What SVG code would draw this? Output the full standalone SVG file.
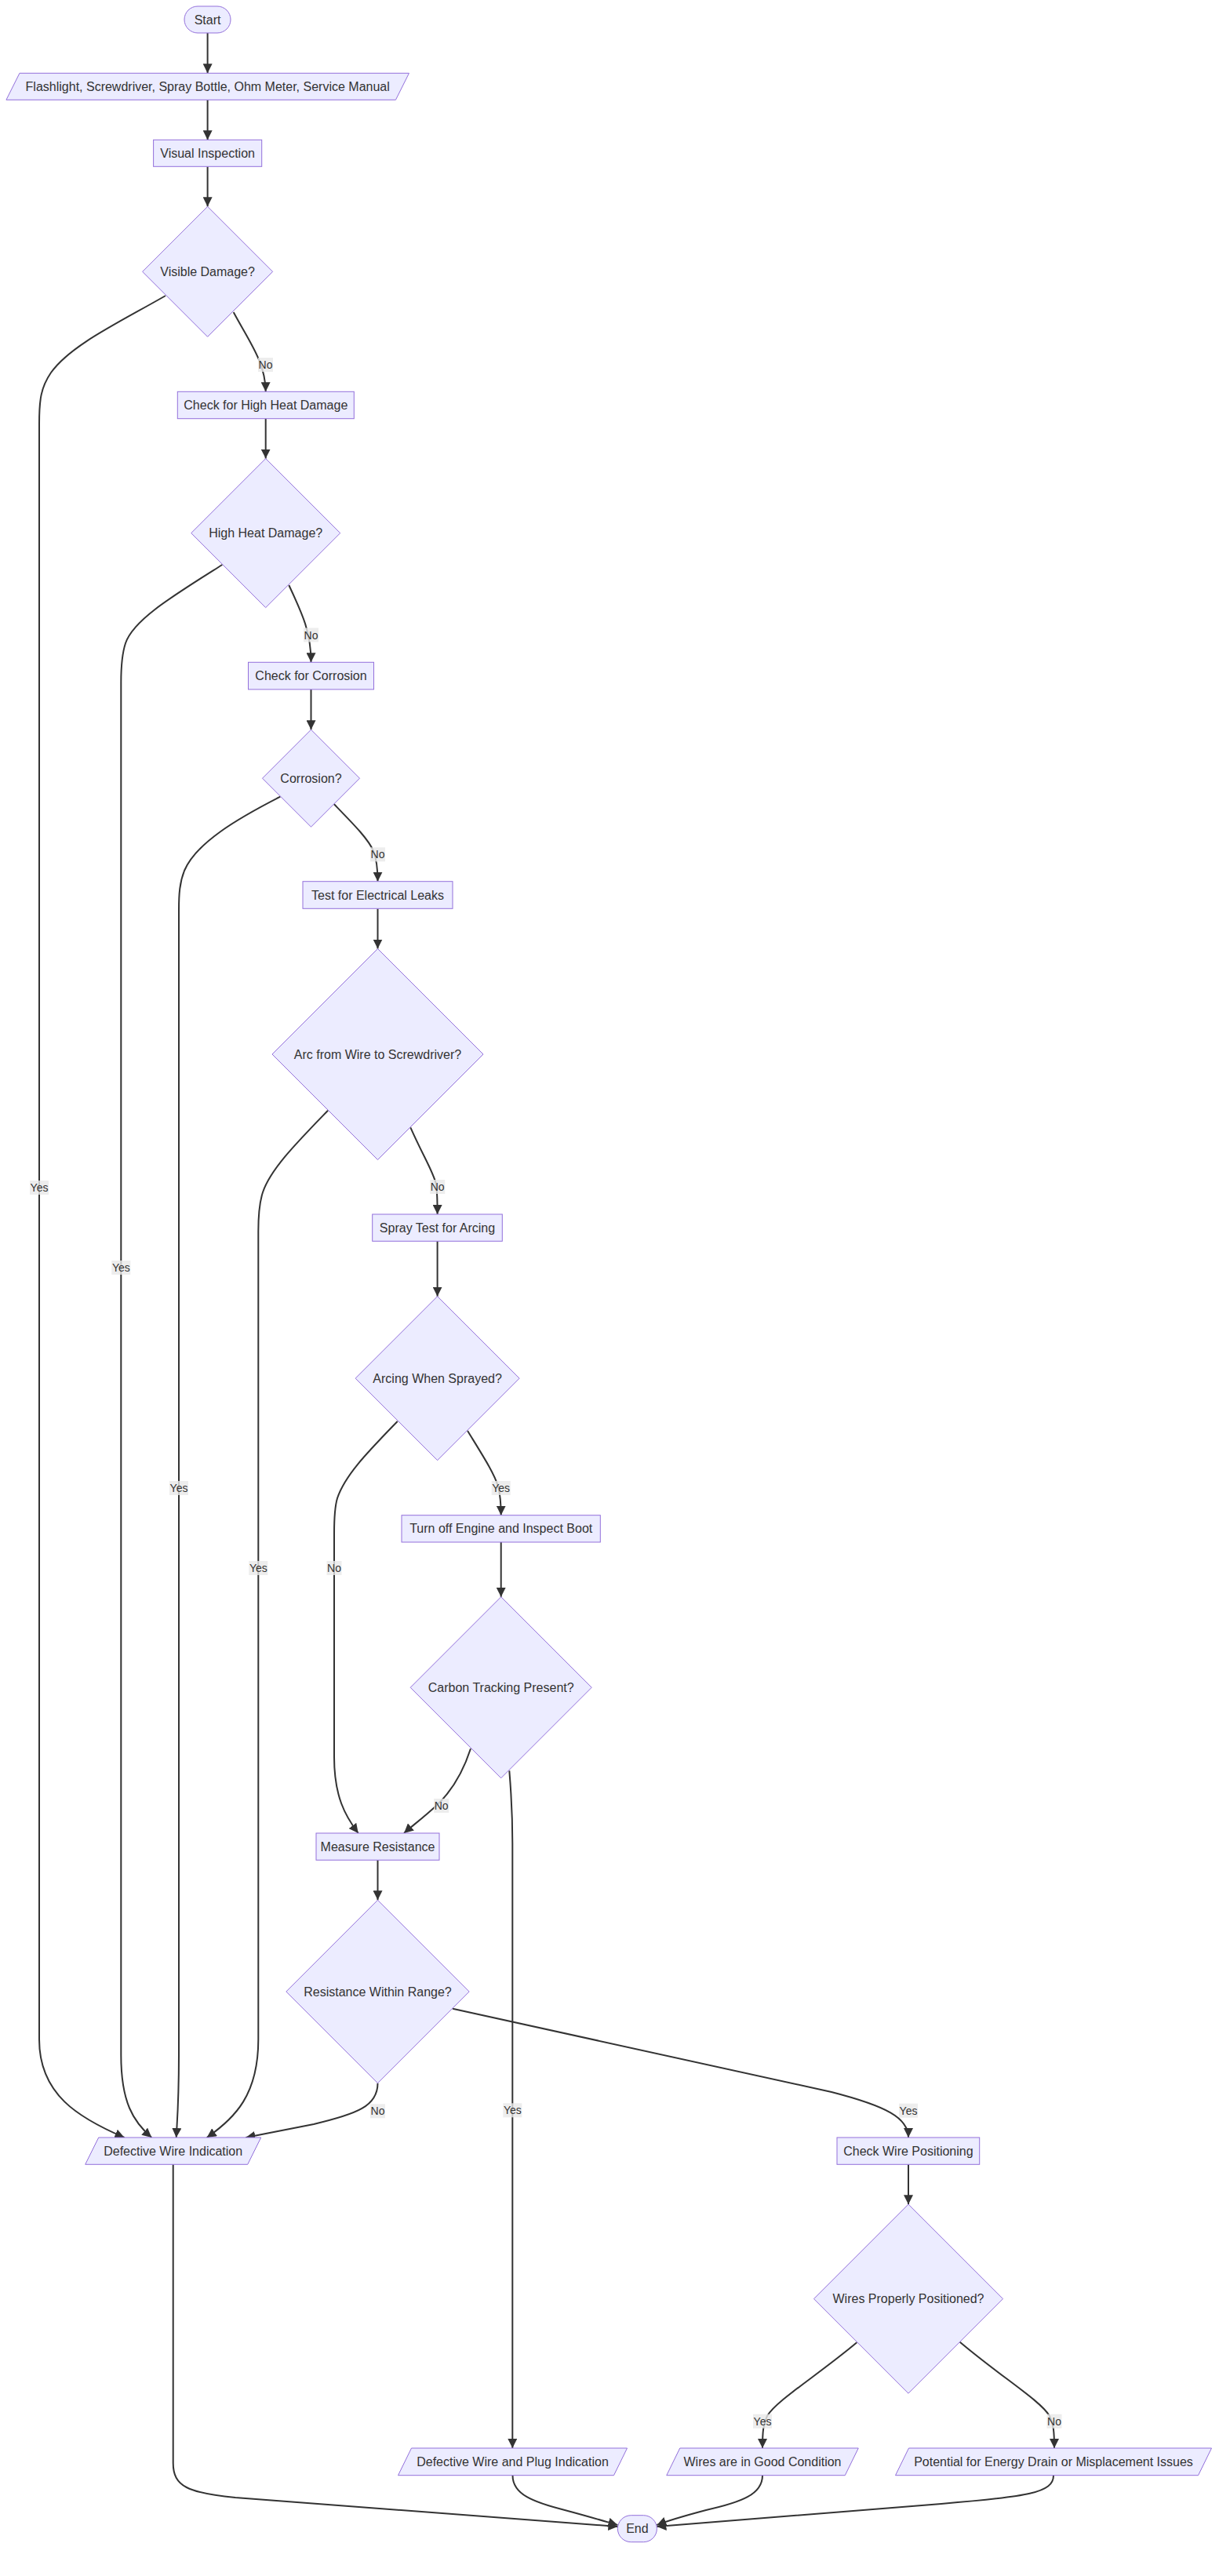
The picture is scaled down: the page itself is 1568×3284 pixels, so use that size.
<svg xmlns="http://www.w3.org/2000/svg" width="1568" height="3284" viewBox="0 0 1568 3284">
<style>
.node rect,.node polygon{fill:#ECECFF;stroke:#9370DB;stroke-width:1}
.node text{font-family:"Liberation Sans",Arial,sans-serif;font-size:16px;fill:#333;text-anchor:middle;dominant-baseline:central}
.edge{fill:none;stroke:#333;stroke-width:2;marker-end:url(#arrow)}
.lbl rect{fill:#e8e8e8;opacity:0.8}
.lbl text{font-family:"Liberation Sans",Arial,sans-serif;font-size:14px;fill:#333;text-anchor:middle;dominant-baseline:central}
</style>
<defs>
<marker id="arrow" viewBox="0 0 10 10" refX="10" refY="5" markerWidth="12" markerHeight="12" markerUnits="userSpaceOnUse" orient="auto"><path d="M0,0 L10,5 L0,10 z" fill="#333"/></marker>
</defs>
<rect width="1568" height="3284" fill="#fff"/>
<g id="edges">
<path class="edge" d="M264.6,42 L264.6,93.3"/>
<path class="edge" d="M264.6,127.3 L264.6,178.3"/>
<path class="edge" d="M264.6,212.3 L264.6,263.3"/>
<path class="edge" d="M211,377 C150,412 90,440 65,475 C52,494 50,510 50,540 L50,2600 C50,2670 100,2700 158.5,2725"/>
<path class="edge" d="M297.7,398 C318,436 338.5,462 338.7,499.3"/>
<path class="edge" d="M338.7,533.7 L338.7,584.6"/>
<path class="edge" d="M283.3,720 C220,760 170,790 160,820 C155,835 154.3,850 154.3,870 L154.3,2620 C154.3,2680 170,2705 193.3,2725"/>
<path class="edge" d="M368.3,746 C385,782 396.5,805 396.5,844.3"/>
<path class="edge" d="M396.5,878.9 L396.5,930.2"/>
<path class="edge" d="M357.3,1015.7 C300,1045 250,1075 235,1110 C229,1125 228,1140 228,1160 L228,2620 C228,2680 226,2700 224.7,2725"/>
<path class="edge" d="M425.7,1025 C450,1050 470,1070 476,1085 C480,1095 481.5,1105 481.5,1123.7"/>
<path class="edge" d="M481.5,1158.3 L481.5,1209.5"/>
<path class="edge" d="M418,1415.7 C380,1455 345,1490 335,1520 C330,1535 329.3,1550 329.3,1570 L329.3,2600 C329.3,2670 300,2700 263.7,2725"/>
<path class="edge" d="M523.3,1437.3 C540,1475 553,1495 556,1510 C557.5,1520 557.6,1530 557.6,1548"/>
<path class="edge" d="M557.6,1582.3 L557.6,1652.7"/>
<path class="edge" d="M506.7,1812 C470,1850 440,1880 430,1910 C427,1920 426,1935 426,1955 L426,2240 C426,2290 440,2315 456.7,2337"/>
<path class="edge" d="M596,1824 C615,1855 630,1878 635,1895 C638,1907 638.7,1915 638.7,1931.7"/>
<path class="edge" d="M638.7,1966 L638.7,2035.8"/>
<path class="edge" d="M600,2229.3 C590,2260 575,2285 555,2303 C540,2317 525,2328 515,2337"/>
<path class="edge" d="M649.3,2257.3 C652,2290 653.3,2315 653.3,2350 L653.3,3121"/>
<path class="edge" d="M481.5,2371.3 L481.5,2422.3"/>
<path class="edge" d="M481.5,2655.7 C481.5,2685 455,2695 400,2708 C360,2716 330,2722 313.4,2725"/>
<path class="edge" d="M577,2560.7 L1060,2667 C1130,2685 1158,2700 1158,2725"/>
<path class="edge" d="M1158,2759.3 L1158,2810.2"/>
<path class="edge" d="M1092.3,2986.3 C1040,3030 990,3060 978,3080 C973,3090 972,3100 972,3121"/>
<path class="edge" d="M1223.7,2985.7 C1276,3030 1326,3060 1338,3080 C1343,3090 1344,3100 1344,3121"/>
<path class="edge" d="M220.7,2759.3 L220.7,3140 C220.7,3170 240,3178 300,3184 L787.4,3221"/>
<path class="edge" d="M653.5,3155.7 C653.5,3180 680,3190 720,3200 C750,3208 770,3214 787.4,3219"/>
<path class="edge" d="M972,3155.7 C972,3180 945,3190 900,3200 C870,3208 850,3214 837.4,3219"/>
<path class="edge" d="M1343,3155.7 C1343,3178 1310,3183 1200,3192 L837.4,3221"/>
</g>
<g id="edge-labels">
<g class="lbl"><rect x="38" y="1505" width="24" height="18"/><text x="50" y="1514">Yes</text></g>
<g class="lbl"><rect x="329" y="456" width="19" height="18"/><text x="338.5" y="465">No</text></g>
<g class="lbl"><rect x="142.3" y="1607" width="24" height="18"/><text x="154.3" y="1616">Yes</text></g>
<g class="lbl"><rect x="387" y="800.5" width="19" height="18"/><text x="396.5" y="809.5">No</text></g>
<g class="lbl"><rect x="216" y="1888" width="24" height="18"/><text x="228" y="1897">Yes</text></g>
<g class="lbl"><rect x="472" y="1080.3" width="19" height="18"/><text x="481.5" y="1089.3">No</text></g>
<g class="lbl"><rect x="317.3" y="1990" width="24" height="18"/><text x="329.3" y="1999">Yes</text></g>
<g class="lbl"><rect x="548.2" y="1504" width="19" height="18"/><text x="557.7" y="1513">No</text></g>
<g class="lbl"><rect x="416.5" y="1990" width="19" height="18"/><text x="426" y="1999">No</text></g>
<g class="lbl"><rect x="626.7" y="1888" width="24" height="18"/><text x="638.7" y="1897">Yes</text></g>
<g class="lbl"><rect x="553.2" y="2293" width="19" height="18"/><text x="562.7" y="2302">No</text></g>
<g class="lbl"><rect x="641.3" y="2681.3" width="24" height="18"/><text x="653.3" y="2690.3">Yes</text></g>
<g class="lbl"><rect x="472" y="2682.3" width="19" height="18"/><text x="481.5" y="2691.3">No</text></g>
<g class="lbl"><rect x="1146" y="2681.7" width="24" height="18"/><text x="1158" y="2690.7">Yes</text></g>
<g class="lbl"><rect x="960" y="3077.7" width="24" height="18"/><text x="972" y="3086.7">Yes</text></g>
<g class="lbl"><rect x="1334.5" y="3077.7" width="19" height="18"/><text x="1344" y="3086.7">No</text></g>
</g>
<g id="start" class="node"><rect x="235" y="8" width="59" height="34" rx="17" ry="17"/><text x="264.6" y="25">Start</text></g>
<g id="tools" class="node"><polygon points="24.95,93.3 521.45,93.3 504.45,127.3 7.95,127.3"/><text x="264.7" y="110.3">Flashlight, Screwdriver, Spray Bottle, Ohm Meter, Service Manual</text></g>
<g id="visual" class="node"><rect x="195.6" y="178.3" width="138.1" height="34"/><text x="264.6" y="195.3">Visual Inspection</text></g>
<g id="visibleDamage" class="node"><polygon points="264.6,263.3 347.6,346.3 264.6,429.3 181.6,346.3"/><text x="264.6" y="346.3">Visible Damage?</text></g>
<g id="checkHeat" class="node"><rect x="226.3" y="499.3" width="225" height="34.4"/><text x="338.8" y="516.5">Check for High Heat Damage</text></g>
<g id="heatDamage" class="node"><polygon points="338.7,584.6 433.7,679.6 338.7,774.6 243.7,679.6"/><text x="338.7" y="679.6">High Heat Damage?</text></g>
<g id="checkCorrosion" class="node"><rect x="316.5" y="844.3" width="160" height="34.6"/><text x="396.5" y="861.6">Check for Corrosion</text></g>
<g id="corrosion" class="node"><polygon points="396.5,930.2 458.5,992.2 396.5,1054.2 334.5,992.2"/><text x="396.5" y="992.2">Corrosion?</text></g>
<g id="testLeaks" class="node"><rect x="386" y="1123.7" width="191" height="34.6"/><text x="481.5" y="1141">Test for Electrical Leaks</text></g>
<g id="arc" class="node"><polygon points="481.5,1209.5 616,1344 481.5,1478.5 347,1344"/><text x="481.5" y="1344">Arc from Wire to Screwdriver?</text></g>
<g id="spray" class="node"><rect x="474.7" y="1548" width="165.6" height="34.3"/><text x="557.5" y="1565.2">Spray Test for Arcing</text></g>
<g id="arcing" class="node"><polygon points="557.6,1652.7 662.1,1757.2 557.6,1861.7 453.1,1757.2"/><text x="557.6" y="1757.2">Arcing When Sprayed?</text></g>
<g id="turnOff" class="node"><rect x="512" y="1931.7" width="253.3" height="34.3"/><text x="638.7" y="1948.8">Turn off Engine and Inspect Boot</text></g>
<g id="carbon" class="node"><polygon points="638.7,2035.8 754.2,2151.3 638.7,2266.8 523.2,2151.3"/><text x="638.7" y="2151.3">Carbon Tracking Present?</text></g>
<g id="measure" class="node"><rect x="403" y="2337" width="157" height="34.3"/><text x="481.5" y="2354.2">Measure Resistance</text></g>
<g id="resistance" class="node"><polygon points="481.5,2422.3 598.2,2539 481.5,2655.7 364.8,2539"/><text x="481.5" y="2539">Resistance Within Range?</text></g>
<g id="defectiveWire" class="node"><polygon points="125.7,2725 332.7,2725 315.7,2759.3 108.7,2759.3"/><text x="220.7" y="2742.2">Defective Wire Indication</text></g>
<g id="checkPositioning" class="node"><rect x="1067" y="2725" width="181.7" height="34.3"/><text x="1157.9" y="2742.2">Check Wire Positioning</text></g>
<g id="positioned" class="node"><polygon points="1158,2810.2 1278.5,2930.7 1158,3051.2 1037.5,2930.7"/><text x="1158" y="2930.7">Wires Properly Positioned?</text></g>
<g id="defectivePlug" class="node"><polygon points="524.5,3121 799.5,3121 782.5,3155.7 507.5,3155.7"/><text x="653.5" y="3138.4">Defective Wire and Plug Indication</text></g>
<g id="goodCondition" class="node"><polygon points="866.75,3121 1094.25,3121 1077.25,3155.7 849.75,3155.7"/><text x="972" y="3138.4">Wires are in Good Condition</text></g>
<g id="energyDrain" class="node"><polygon points="1158.5,3121 1544.5,3121 1527.5,3155.7 1141.5,3155.7"/><text x="1343" y="3138.4">Potential for Energy Drain or Misplacement Issues</text></g>
<g id="end" class="node"><rect x="787.4" y="3206.7" width="50" height="34" rx="17" ry="17"/><text x="812.4" y="3223.7">End</text></g>
</svg>
